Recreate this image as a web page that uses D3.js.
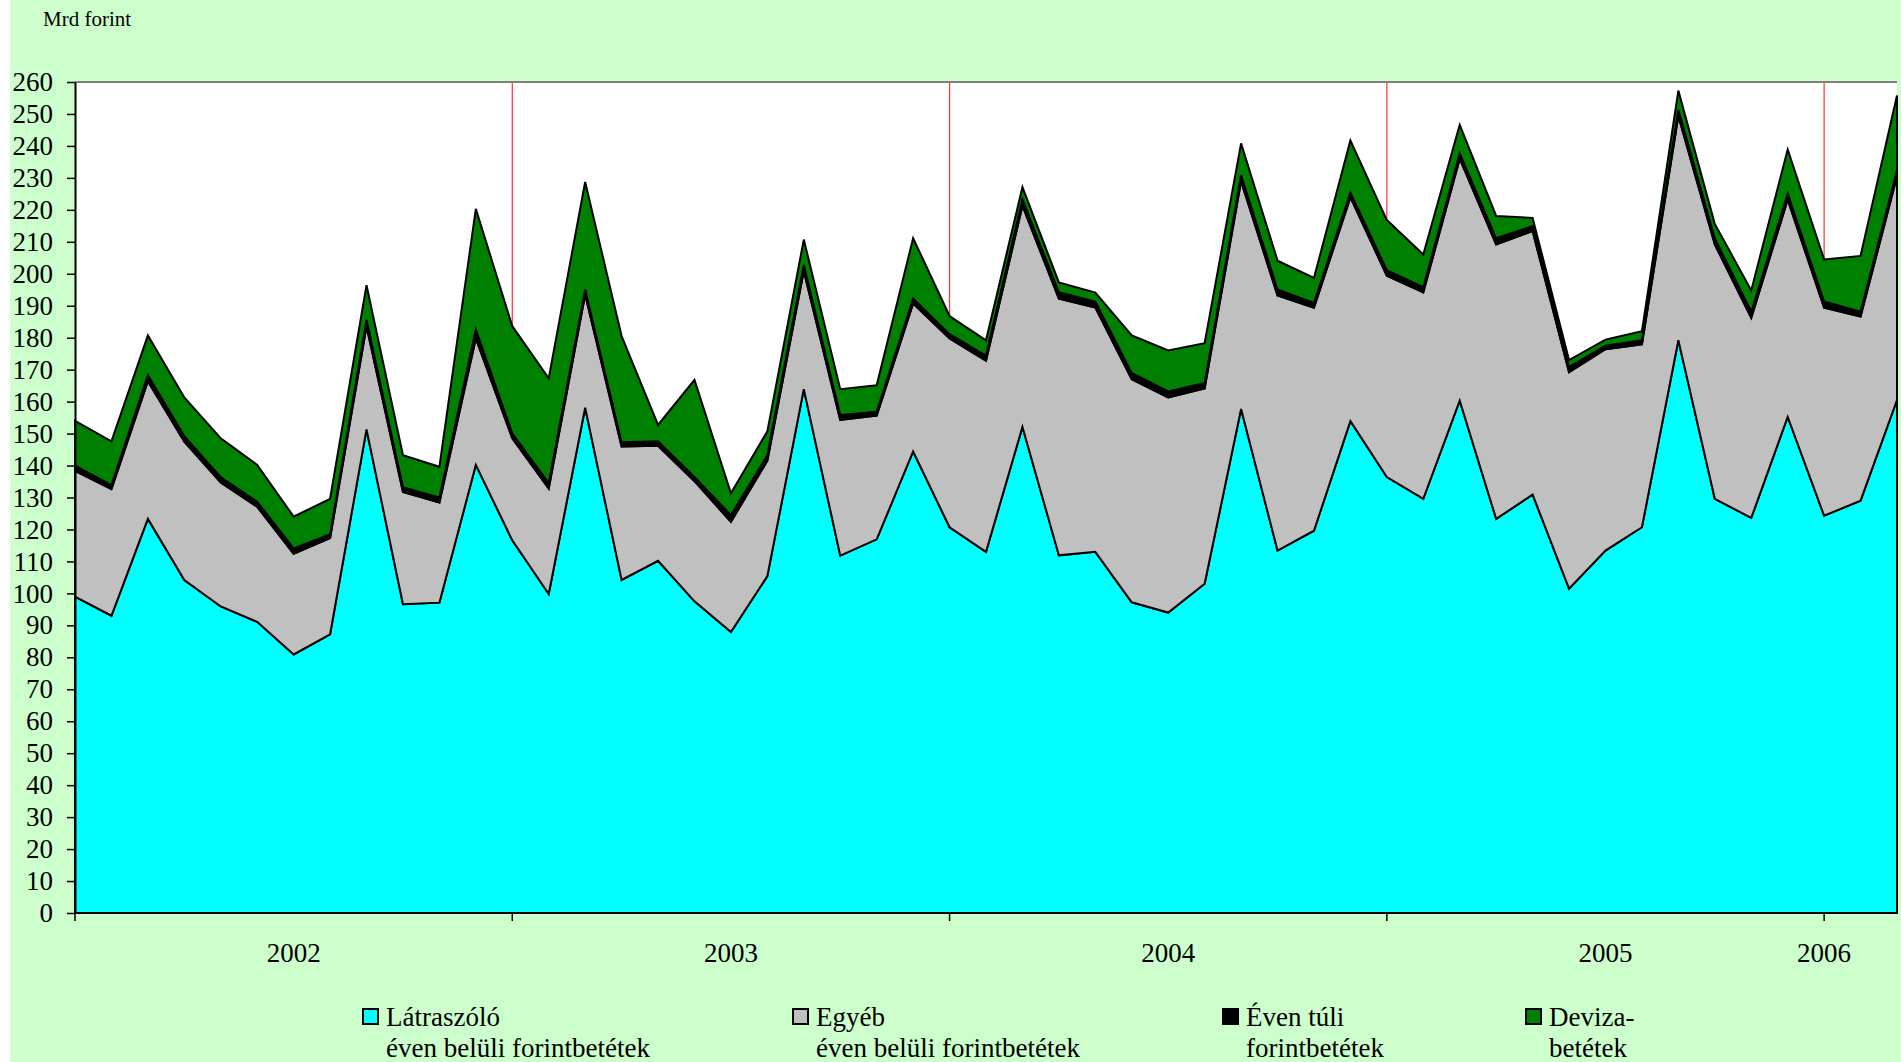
<!DOCTYPE html>
<meta charset="utf-8">
<script src="https://d3js.org/d3.v7.min.js"></script>
<style>
  body { margin: 0; background: #fff; }
  text { font-family: "Liberation Serif", "Times New Roman", serif; fill: #000; }
</style>
<div id="chart"></div>
<script>

// months, 2002.01 - 2006.03
var months = [
  "2002.01","2002.02","2002.03","2002.04","2002.05","2002.06","2002.07","2002.08","2002.09","2002.10","2002.11","2002.12",
  "2003.01","2003.02","2003.03","2003.04","2003.05","2003.06","2003.07","2003.08","2003.09","2003.10","2003.11","2003.12",
  "2004.01","2004.02","2004.03","2004.04","2004.05","2004.06","2004.07","2004.08","2004.09","2004.10","2004.11","2004.12",
  "2005.01","2005.02","2005.03","2005.04","2005.05","2005.06","2005.07","2005.08","2005.09","2005.10","2005.11","2005.12",
  "2006.01","2006.02","2006.03"
];

// series values, Mrd forint
var latraszolo = [99.0,93.0,123.3,104.2,95.9,91.1,80.9,87.2,151.3,96.6,97.1,140.2,
  116.6,99.8,158.1,104.2,110.2,97.5,87.9,105.4,163.9,111.8,116.9,144.4,
  120.7,113.0,152.1,111.9,113.0,97.2,94.0,103.0,157.7,113.4,119.6,153.9,
  136.4,129.6,160.3,123.3,130.9,101.5,113.4,120.7,179.2,129.6,123.6,155.2,
  124.3,129.0,160.5];
var egyeb = [39.3,39.6,43.1,43.3,38.8,36.0,31.5,30.1,32.3,35.1,31.3,39.6,
  31.9,33.0,35.4,41.8,36.0,37.6,34.5,36.1,37.0,42.5,38.7,46.3,
  59.1,59.8,69.2,80.3,76.4,69.8,67.3,61.1,71.3,79.8,69.8,70.0,
  63.0,64.6,75.7,85.9,82.5,67.7,63.0,57.2,70.2,79.6,62.6,68.0,
  65.1,57.6,70.0];
var evenTuli = [1.7,1.3,1.9,1.7,1.7,1.6,1.7,1.2,2.0,1.5,1.6,2.8,
  1.6,1.7,1.6,1.3,1.4,1.3,2.1,1.7,1.9,1.5,1.2,1.5,
  1.3,1.6,1.9,2.0,1.9,2.0,1.9,1.7,1.9,1.9,1.5,1.5,
  1.7,1.6,1.7,1.9,1.5,1.7,1.1,1.3,1.9,1.9,1.9,1.9,
  1.9,1.5,1.9];
var deviza = [14.0,13.7,12.4,12.1,12.1,11.5,9.9,11.1,10.8,10.0,9.6,37.7,
  33.5,32.8,33.6,33.2,5.1,30.4,6.8,7.5,7.9,8.1,8.3,18.9,
  5.7,4.8,3.9,3.1,2.8,11.7,12.8,12.5,9.9,9.0,7.8,16.3,
  15.7,10.2,8.9,7.0,2.6,2.1,1.9,2.8,6.0,4.5,6.7,13.8,
  13.2,17.5,23.4];

var seriesKeys = ["latraszolo", "egyeb", "evenTuli", "deviza"];
var seriesColors = ["#00FFFF", "#C0C0C0", "#000000", "#008000"];
var legendLine1 = ["Látraszóló", "Egyéb", "Éven túli", "Deviza-"];
var legendLine2 = ["éven belüli forintbetétek", "éven belüli forintbetétek", "forintbetétek", "betétek"];

var yTicks = d3.range(0, 261, 10);
var yearLabels = ["2002", "2003", "2004", "2005", "2006"];
var yearLabelAt = ["2002.07", "2003.07", "2004.07", "2005.07", "2006.01"];
var yearTicks = ["2002.01", "2003.01", "2004.01", "2005.01", "2006.01"];
var yearLines = ["2003.01", "2004.01", "2005.01", "2006.01"];

// table for the stack
var data = months.map(function(m, i) {
  return {month: m, latraszolo: latraszolo[i], egyeb: egyeb[i], evenTuli: evenTuli[i], deviza: deviza[i]};
});

var W = 1901, H = 1062;
var plot = {left: 75, right: 1897, top: 82, bottom: 913};

var svg = d3.select("#chart").append("svg")
    .attr("width", W)
    .attr("height", H);

// pale green chart background
svg.append("rect")
    .attr("x", 10).attr("y", 0)
    .attr("width", W - 10).attr("height", H)
    .attr("fill", "#CCFFCC");

// plot area
svg.append("rect")
    .attr("x", plot.left).attr("y", plot.top)
    .attr("width", plot.right - plot.left).attr("height", plot.bottom - plot.top)
    .attr("fill", "#fff");

var x = d3.scalePoint()
    .domain(months)
    .range([plot.left, plot.right]);

var y = d3.scaleLinear()
    .domain([0, 260])
    .range([plot.bottom, plot.top]);

// red year separators
svg.append("g")
  .selectAll("line")
  .data(yearLines)
  .enter().append("line")
    .attr("x1", function(d) { return x(d); })
    .attr("x2", function(d) { return x(d); })
    .attr("y1", plot.top)
    .attr("y2", plot.bottom)
    .attr("stroke", "#FF3333")
    .attr("stroke-width", 1.2);

var stacked = d3.stack().keys(seriesKeys)(data);

var area = d3.area()
    .x(function(d) { return x(d.data.month); })
    .y0(function(d) { return y(d[0]); })
    .y1(function(d) { return y(d[1]); });

svg.append("g")
  .selectAll("path")
  .data(stacked)
  .enter().append("path")
    .attr("d", area)
    .attr("fill", function(d, i) { return seriesColors[i]; })
    .attr("stroke", "#000")
    .attr("stroke-width", 2)
    .attr("stroke-linejoin", "miter");

// top border of plot
svg.append("line")
    .attr("x1", plot.left).attr("x2", plot.right)
    .attr("y1", plot.top).attr("y2", plot.top)
    .attr("stroke", "#808080")
    .attr("stroke-width", 2);

// Y axis
var yAxis = svg.append("g")
    .attr("transform", "translate(" + plot.left + ",0)")
    .call(d3.axisLeft(y).tickValues(yTicks).tickSize(8).tickSizeOuter(0).tickPadding(14));
yAxis.select(".domain").attr("stroke", "#000").attr("stroke-width", 2);
yAxis.selectAll(".tick line").attr("stroke", "#000").attr("stroke-width", 1.5);
yAxis.selectAll("text")
    .style("font-family", "'Liberation Serif', serif")
    .style("font-size", "27px")
    .attr("fill", "#000");

// X axis line + year ticks
svg.append("line")
    .attr("x1", plot.left).attr("x2", plot.right)
    .attr("y1", plot.bottom).attr("y2", plot.bottom)
    .attr("stroke", "#000")
    .attr("stroke-width", 2);

svg.append("g")
  .selectAll("line")
  .data(yearTicks)
  .enter().append("line")
    .attr("x1", function(d) { return x(d); })
    .attr("x2", function(d) { return x(d); })
    .attr("y1", plot.bottom)
    .attr("y2", plot.bottom + 8)
    .attr("stroke", "#000")
    .attr("stroke-width", 1.5);

svg.append("g")
  .selectAll("text")
  .data(yearLabels)
  .enter().append("text")
    .attr("x", function(d, i) { return x(yearLabelAt[i]); })
    .attr("y", 962)
    .attr("text-anchor", "middle")
    .style("font-size", "27px")
    .text(function(d) { return d; });

// unit label
svg.append("text")
    .attr("x", 43)
    .attr("y", 26)
    .style("font-size", "21px")
    .text("Mrd forint");

// legend
var legendX = [362, 792, 1222, 1525];
var legend = svg.append("g")
  .selectAll("g")
  .data(seriesKeys)
  .enter().append("g")
    .attr("transform", function(d, i) { return "translate(" + legendX[i] + ",0)"; });

legend.append("rect")
    .attr("x", 1).attr("y", 1009)
    .attr("width", 15).attr("height", 15)
    .attr("fill", function(d, i) { return seriesColors[i]; })
    .attr("stroke", "#000")
    .attr("stroke-width", 2);

legend.append("text")
    .attr("x", 24)
    .attr("y", 1026)
    .style("font-size", "27px")
    .text(function(d, i) { return legendLine1[i]; });

legend.append("text")
    .attr("x", 24)
    .attr("y", 1057)
    .style("font-size", "27px")
    .text(function(d, i) { return legendLine2[i]; });

</script>
